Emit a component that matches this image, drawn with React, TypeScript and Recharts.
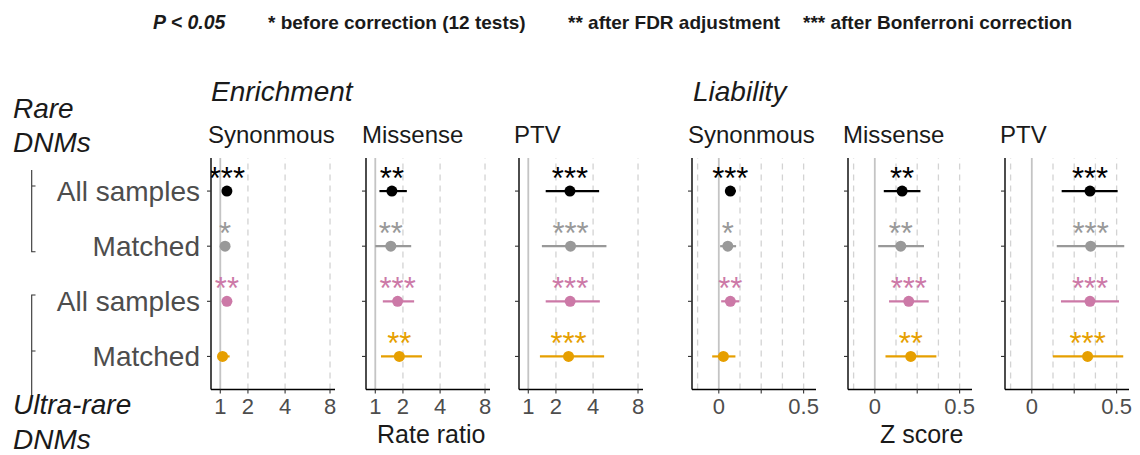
import { ScatterChart, Scatter, XAxis, YAxis, ErrorBar, ReferenceLine } from 'recharts';

const rowLabels = ['All samples', 'Matched', 'All samples', 'Matched'];
const rowColors = ['#000000', '#999999', '#CC79A7', '#E69F00'];

const rateTicks = [1, 2, 4, 8];
const rateDashed = [2, 4, 8];
const zTicks = [0, 0.25, 0.5];
const zTickLabels = ['0', '', '0.5'];
const zDashed = [-0.125, 0.125, 0.25, 0.375, 0.5];

const enrichSynEst = [1.21, 1.15, 1.21, 1.07];
const enrichSynLo = [1.14, 1.08, 1.13, 0.92];
const enrichSynHi = [1.28, 1.22, 1.3, 1.3];
const enrichSynStars = ['***', '*', '**', ''];

const enrichMisEst = [1.56, 1.52, 1.78, 1.85];
const enrichMisLo = [1.13, 1.0, 1.24, 1.18];
const enrichMisHi = [2.17, 2.37, 2.51, 2.91];
const enrichMisStars = ['**', '**', '***', '**'];

const enrichPtvEst = [2.65, 2.68, 2.66, 2.58];
const enrichPtvLo = [1.59, 1.45, 1.59, 1.38];
const enrichPtvHi = [4.42, 4.97, 4.47, 4.79];
const enrichPtvStars = ['***', '***', '***', '***'];

const liabSynEst = [0.068, 0.053, 0.068, 0.027];
const liabSynLo = [0.04, 0.008, 0.014, -0.039];
const liabSynHi = [0.1, 0.102, 0.121, 0.098];
const liabSynStars = ['***', '*', '**', ''];

const liabMisEst = [0.161, 0.153, 0.2, 0.212];
const liabMisLo = [0.053, 0.02, 0.084, 0.063];
const liabMisHi = [0.269, 0.29, 0.318, 0.363];
const liabMisStars = ['**', '**', '***', '**'];

const liabPtvEst = [0.343, 0.347, 0.343, 0.329];
const liabPtvLo = [0.176, 0.147, 0.172, 0.124];
const liabPtvHi = [0.506, 0.545, 0.514, 0.539];
const liabPtvStars = ['***', '***', '***', '***'];

// rate ratio axis is drawn on a log(x + 1.5) scale
const rr = (v: number) => Math.log(v + 1.5);
const rrInv = (t: number) => Math.exp(t) - 1.5;
const ident = (v: number) => v;

const PLOT_W = 124;
const PLOT_TOP = 158;
const PLOT_H = 231.5;
const MARGIN_TOP = 8;
const XAXIS_H = 40;
const MARGIN_RIGHT = 16;

type PanelProps = {
  plotLeft: number;
  est: number[];
  lo: number[];
  hi: number[];
  stars: string[];
  tf: (v: number) => number;
  domain: [number, number];
  ticks: number[];
  tickLabel: (v: number) => string;
  solidAt: number;
  dashed: number[];
  showRowLabels?: boolean;
};

const makeShape = (color: string) => (props: any) => {
  const { cx, cy, payload } = props;
  return (
    <g>
      <circle cx={cx} cy={cy} r={5.5} fill={color} />
      <text x={cx} y={cy - 2} textAnchor="middle" fontSize={31} fill={color}>
        {payload.stars}
      </text>
    </g>
  );
};

const Panel = ({
  plotLeft,
  est,
  lo,
  hi,
  stars,
  tf,
  domain,
  ticks,
  tickLabel,
  solidAt,
  dashed,
  showRowLabels,
}: PanelProps) => {
  const yw = showRowLabels ? plotLeft : 12;
  const width = yw + PLOT_W + MARGIN_RIGHT;
  const height = MARGIN_TOP + PLOT_H + XAXIS_H;
  const tDomain: [number, number] = [tf(domain[0]), tf(domain[1])];

  return (
    <div style={{ position: 'absolute', left: plotLeft - yw, top: PLOT_TOP - MARGIN_TOP }}>
      <ScatterChart
        width={width}
        height={height}
        margin={{ top: MARGIN_TOP, right: MARGIN_RIGHT, bottom: 0, left: 0 }}
      >
        <XAxis
          type="number"
          dataKey="x"
          domain={tDomain}
          allowDataOverflow
          ticks={ticks.map(tf)}
          interval={0}
          tickFormatter={(v: number) => tickLabel(v)}
          height={XAXIS_H}
          tickSize={4}
          tickMargin={5}
          axisLine={{ stroke: '#000', strokeWidth: 1.4 }}
          tickLine={{ stroke: '#333', strokeWidth: 1.1 }}
          tick={{ fill: '#4D4D4D', fontSize: 22 }}
        />
        <YAxis
          type="number"
          dataKey="y"
          domain={[0.4, 4.6]}
          allowDataOverflow
          reversed
          ticks={[1, 2, 3, 4]}
          interval={0}
          width={yw}
          tickFormatter={(v: number) => (showRowLabels ? rowLabels[v - 1] : '')}
          tickSize={4}
          tickMargin={7}
          axisLine={{ stroke: '#000', strokeWidth: 1.4 }}
          tickLine={{ stroke: '#333', strokeWidth: 1.1 }}
          tick={{ fill: '#4D4D4D', fontSize: 28 }}
        />
        {dashed.map((d) => (
          <ReferenceLine
            key={d}
            x={tf(d)}
            stroke="#D3D3D3"
            strokeWidth={1.3}
            strokeDasharray="6 5"
          />
        ))}
        <ReferenceLine x={tf(solidAt)} stroke="#C4C4C4" strokeWidth={1.8} />
        {est.map((e, i) => (
          <Scatter
            key={i}
            data={[
              {
                x: tf(e),
                y: i + 1,
                err: [tf(e) - tf(lo[i]), tf(hi[i]) - tf(e)],
                stars: stars[i],
              },
            ]}
            fill={rowColors[i]}
            shape={makeShape(rowColors[i])}
            isAnimationActive={false}
          >
            <ErrorBar
              dataKey="err"
              direction="x"
              width={0}
              stroke={rowColors[i]}
              strokeWidth={2.2}
            />
          </Scatter>
        ))}
      </ScatterChart>
    </div>
  );
};

const rateDomain: [number, number] = [0.733, 8.594];
const zDomain: [number, number] = [-0.158, 0.573];
const rateLabel = (t: number) => String(Math.round(rrInv(t)));
const zLabel = (v: number) => {
  const idx = zTicks.findIndex((z) => Math.abs(z - v) < 1e-6);
  return idx >= 0 ? zTickLabels[idx] : '';
};

const App = () => {
  const common = { fill: '#1A1A1A' };
  return (
    <div
      style={{
        position: 'absolute',
        left: 0,
        top: 0,
        width: 1140,
        height: 455,
        overflow: 'hidden',
        background: '#fff',
        fontFamily: '"Liberation Sans", Arial, sans-serif',
      }}
    >
      <Panel
        plotLeft={211}
        est={enrichSynEst}
        lo={enrichSynLo}
        hi={enrichSynHi}
        stars={enrichSynStars}
        tf={rr}
        domain={rateDomain}
        ticks={rateTicks}
        tickLabel={rateLabel}
        solidAt={1}
        dashed={rateDashed}
        showRowLabels
      />
      <Panel
        plotLeft={366}
        est={enrichMisEst}
        lo={enrichMisLo}
        hi={enrichMisHi}
        stars={enrichMisStars}
        tf={rr}
        domain={rateDomain}
        ticks={rateTicks}
        tickLabel={rateLabel}
        solidAt={1}
        dashed={rateDashed}
      />
      <Panel
        plotLeft={519}
        est={enrichPtvEst}
        lo={enrichPtvLo}
        hi={enrichPtvHi}
        stars={enrichPtvStars}
        tf={rr}
        domain={rateDomain}
        ticks={rateTicks}
        tickLabel={rateLabel}
        solidAt={1}
        dashed={rateDashed}
      />
      <Panel
        plotLeft={692}
        est={liabSynEst}
        lo={liabSynLo}
        hi={liabSynHi}
        stars={liabSynStars}
        tf={ident}
        domain={zDomain}
        ticks={zTicks}
        tickLabel={zLabel}
        solidAt={0}
        dashed={zDashed}
      />
      <Panel
        plotLeft={848}
        est={liabMisEst}
        lo={liabMisLo}
        hi={liabMisHi}
        stars={liabMisStars}
        tf={ident}
        domain={zDomain}
        ticks={zTicks}
        tickLabel={zLabel}
        solidAt={0}
        dashed={zDashed}
      />
      <Panel
        plotLeft={1005}
        est={liabPtvEst}
        lo={liabPtvLo}
        hi={liabPtvHi}
        stars={liabPtvStars}
        tf={ident}
        domain={zDomain}
        ticks={zTicks}
        tickLabel={zLabel}
        solidAt={0}
        dashed={zDashed}
      />

      <svg
        width={1140}
        height={455}
        style={{ position: 'absolute', left: 0, top: 0, pointerEvents: 'none' }}
      >
        {/* significance legend */}
        <text x={153} y={29} fontSize={19.5} fontWeight="bold" fontStyle="italic" {...common}>
          P &lt; 0.05
        </text>
        <text x={268} y={29} fontSize={19} fontWeight="bold" {...common}>
          * before correction (12 tests)
        </text>
        <text x={568} y={29} fontSize={19} fontWeight="bold" {...common}>
          ** after FDR adjustment
        </text>
        <text x={803} y={29} fontSize={19} fontWeight="bold" {...common}>
          *** after Bonferroni correction
        </text>

        <text x={211} y={101} fontSize={28} fontStyle="italic" {...common}>
          Enrichment
        </text>
        <text x={693} y={101} fontSize={28} fontStyle="italic" {...common}>
          Liability
        </text>

        <text x={208} y={143} fontSize={24} {...common}>Synonmous</text>
        <text x={362} y={143} fontSize={24} {...common}>Missense</text>
        <text x={514} y={143} fontSize={24} {...common}>PTV</text>
        <text x={688} y={143} fontSize={24} {...common}>Synonmous</text>
        <text x={843} y={143} fontSize={24} {...common}>Missense</text>
        <text x={1000} y={143} fontSize={24} {...common}>PTV</text>

        <text x={13} y={118} fontSize={28} fontStyle="italic" {...common}>Rare</text>
        <text x={13} y={152} fontSize={28} fontStyle="italic" {...common}>DNMs</text>
        <text x={13} y={414} fontSize={28} fontStyle="italic" {...common}>Ultra-rare</text>
        <text x={13} y={449} fontSize={28} fontStyle="italic" {...common}>DNMs</text>

        <path d="M31.7 170 V251.7 H35.5 M31.7 186 H35.5" stroke="#333" strokeWidth={1.1} fill="none" />
        <path d="M35.5 295 H31.7 V395 M31.7 351 H35.5" stroke="#333" strokeWidth={1.1} fill="none" />

        <text x={377} y={443} fontSize={25} {...common}>Rate ratio</text>
        <text x={880} y={443} fontSize={25} {...common}>Z score</text>
      </svg>
    </div>
  );
};

export default App;
